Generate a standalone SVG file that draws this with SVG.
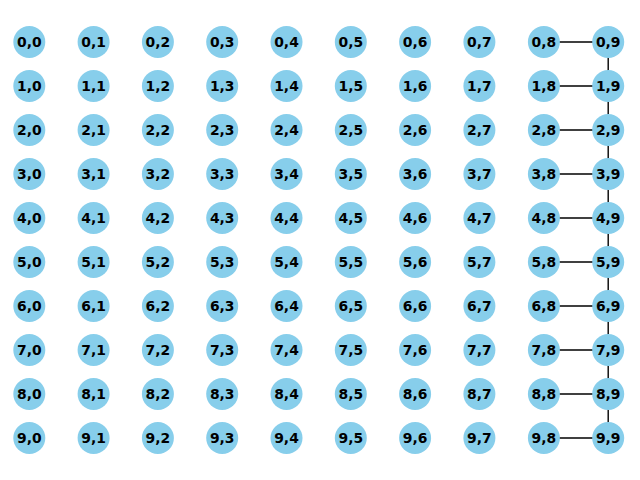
<svg xmlns="http://www.w3.org/2000/svg" width="640" height="480" viewBox="0 0 640 480">
<style>
.n circle{fill:#87CEEB}
.n text{font-family:"DejaVu Sans",sans-serif;font-weight:bold;font-size:13.9px;fill:#000;text-anchor:middle;dominant-baseline:central}
#edges line{stroke:#000;stroke-width:1.39}
</style>
<rect width="640" height="480" fill="#fff"/>
<g id="edges">
<line x1="543.9" y1="42" x2="608.2" y2="42"/>
<line x1="543.9" y1="86" x2="608.2" y2="86"/>
<line x1="543.9" y1="130" x2="608.2" y2="130"/>
<line x1="543.9" y1="174" x2="608.2" y2="174"/>
<line x1="543.9" y1="218" x2="608.2" y2="218"/>
<line x1="543.9" y1="262" x2="608.2" y2="262"/>
<line x1="543.9" y1="306" x2="608.2" y2="306"/>
<line x1="543.9" y1="350" x2="608.2" y2="350"/>
<line x1="543.9" y1="394" x2="608.2" y2="394"/>
<line x1="543.9" y1="438" x2="608.2" y2="438"/>
<line x1="608.2" y1="42" x2="608.2" y2="438"/>
</g>
<g id="n0_0" class="n"><circle cx="29.3" cy="42" r="16"/><text x="29.3" y="42">0,0</text></g>
<g id="n0_1" class="n"><circle cx="93.6" cy="42" r="16"/><text x="93.6" y="42">0,1</text></g>
<g id="n0_2" class="n"><circle cx="157.9" cy="42" r="16"/><text x="157.9" y="42">0,2</text></g>
<g id="n0_3" class="n"><circle cx="222.2" cy="42" r="16"/><text x="222.2" y="42">0,3</text></g>
<g id="n0_4" class="n"><circle cx="286.5" cy="42" r="16"/><text x="286.5" y="42">0,4</text></g>
<g id="n0_5" class="n"><circle cx="350.8" cy="42" r="16"/><text x="350.8" y="42">0,5</text></g>
<g id="n0_6" class="n"><circle cx="415.1" cy="42" r="16"/><text x="415.1" y="42">0,6</text></g>
<g id="n0_7" class="n"><circle cx="479.4" cy="42" r="16"/><text x="479.4" y="42">0,7</text></g>
<g id="n0_8" class="n"><circle cx="543.9" cy="42" r="16"/><text x="543.9" y="42">0,8</text></g>
<g id="n0_9" class="n"><circle cx="608.2" cy="42" r="16"/><text x="608.2" y="42">0,9</text></g>
<g id="n1_0" class="n"><circle cx="29.3" cy="86" r="16"/><text x="29.3" y="86">1,0</text></g>
<g id="n1_1" class="n"><circle cx="93.6" cy="86" r="16"/><text x="93.6" y="86">1,1</text></g>
<g id="n1_2" class="n"><circle cx="157.9" cy="86" r="16"/><text x="157.9" y="86">1,2</text></g>
<g id="n1_3" class="n"><circle cx="222.2" cy="86" r="16"/><text x="222.2" y="86">1,3</text></g>
<g id="n1_4" class="n"><circle cx="286.5" cy="86" r="16"/><text x="286.5" y="86">1,4</text></g>
<g id="n1_5" class="n"><circle cx="350.8" cy="86" r="16"/><text x="350.8" y="86">1,5</text></g>
<g id="n1_6" class="n"><circle cx="415.1" cy="86" r="16"/><text x="415.1" y="86">1,6</text></g>
<g id="n1_7" class="n"><circle cx="479.4" cy="86" r="16"/><text x="479.4" y="86">1,7</text></g>
<g id="n1_8" class="n"><circle cx="543.9" cy="86" r="16"/><text x="543.9" y="86">1,8</text></g>
<g id="n1_9" class="n"><circle cx="608.2" cy="86" r="16"/><text x="608.2" y="86">1,9</text></g>
<g id="n2_0" class="n"><circle cx="29.3" cy="130" r="16"/><text x="29.3" y="130">2,0</text></g>
<g id="n2_1" class="n"><circle cx="93.6" cy="130" r="16"/><text x="93.6" y="130">2,1</text></g>
<g id="n2_2" class="n"><circle cx="157.9" cy="130" r="16"/><text x="157.9" y="130">2,2</text></g>
<g id="n2_3" class="n"><circle cx="222.2" cy="130" r="16"/><text x="222.2" y="130">2,3</text></g>
<g id="n2_4" class="n"><circle cx="286.5" cy="130" r="16"/><text x="286.5" y="130">2,4</text></g>
<g id="n2_5" class="n"><circle cx="350.8" cy="130" r="16"/><text x="350.8" y="130">2,5</text></g>
<g id="n2_6" class="n"><circle cx="415.1" cy="130" r="16"/><text x="415.1" y="130">2,6</text></g>
<g id="n2_7" class="n"><circle cx="479.4" cy="130" r="16"/><text x="479.4" y="130">2,7</text></g>
<g id="n2_8" class="n"><circle cx="543.9" cy="130" r="16"/><text x="543.9" y="130">2,8</text></g>
<g id="n2_9" class="n"><circle cx="608.2" cy="130" r="16"/><text x="608.2" y="130">2,9</text></g>
<g id="n3_0" class="n"><circle cx="29.3" cy="174" r="16"/><text x="29.3" y="174">3,0</text></g>
<g id="n3_1" class="n"><circle cx="93.6" cy="174" r="16"/><text x="93.6" y="174">3,1</text></g>
<g id="n3_2" class="n"><circle cx="157.9" cy="174" r="16"/><text x="157.9" y="174">3,2</text></g>
<g id="n3_3" class="n"><circle cx="222.2" cy="174" r="16"/><text x="222.2" y="174">3,3</text></g>
<g id="n3_4" class="n"><circle cx="286.5" cy="174" r="16"/><text x="286.5" y="174">3,4</text></g>
<g id="n3_5" class="n"><circle cx="350.8" cy="174" r="16"/><text x="350.8" y="174">3,5</text></g>
<g id="n3_6" class="n"><circle cx="415.1" cy="174" r="16"/><text x="415.1" y="174">3,6</text></g>
<g id="n3_7" class="n"><circle cx="479.4" cy="174" r="16"/><text x="479.4" y="174">3,7</text></g>
<g id="n3_8" class="n"><circle cx="543.9" cy="174" r="16"/><text x="543.9" y="174">3,8</text></g>
<g id="n3_9" class="n"><circle cx="608.2" cy="174" r="16"/><text x="608.2" y="174">3,9</text></g>
<g id="n4_0" class="n"><circle cx="29.3" cy="218" r="16"/><text x="29.3" y="218">4,0</text></g>
<g id="n4_1" class="n"><circle cx="93.6" cy="218" r="16"/><text x="93.6" y="218">4,1</text></g>
<g id="n4_2" class="n"><circle cx="157.9" cy="218" r="16"/><text x="157.9" y="218">4,2</text></g>
<g id="n4_3" class="n"><circle cx="222.2" cy="218" r="16"/><text x="222.2" y="218">4,3</text></g>
<g id="n4_4" class="n"><circle cx="286.5" cy="218" r="16"/><text x="286.5" y="218">4,4</text></g>
<g id="n4_5" class="n"><circle cx="350.8" cy="218" r="16"/><text x="350.8" y="218">4,5</text></g>
<g id="n4_6" class="n"><circle cx="415.1" cy="218" r="16"/><text x="415.1" y="218">4,6</text></g>
<g id="n4_7" class="n"><circle cx="479.4" cy="218" r="16"/><text x="479.4" y="218">4,7</text></g>
<g id="n4_8" class="n"><circle cx="543.9" cy="218" r="16"/><text x="543.9" y="218">4,8</text></g>
<g id="n4_9" class="n"><circle cx="608.2" cy="218" r="16"/><text x="608.2" y="218">4,9</text></g>
<g id="n5_0" class="n"><circle cx="29.3" cy="262" r="16"/><text x="29.3" y="262">5,0</text></g>
<g id="n5_1" class="n"><circle cx="93.6" cy="262" r="16"/><text x="93.6" y="262">5,1</text></g>
<g id="n5_2" class="n"><circle cx="157.9" cy="262" r="16"/><text x="157.9" y="262">5,2</text></g>
<g id="n5_3" class="n"><circle cx="222.2" cy="262" r="16"/><text x="222.2" y="262">5,3</text></g>
<g id="n5_4" class="n"><circle cx="286.5" cy="262" r="16"/><text x="286.5" y="262">5,4</text></g>
<g id="n5_5" class="n"><circle cx="350.8" cy="262" r="16"/><text x="350.8" y="262">5,5</text></g>
<g id="n5_6" class="n"><circle cx="415.1" cy="262" r="16"/><text x="415.1" y="262">5,6</text></g>
<g id="n5_7" class="n"><circle cx="479.4" cy="262" r="16"/><text x="479.4" y="262">5,7</text></g>
<g id="n5_8" class="n"><circle cx="543.9" cy="262" r="16"/><text x="543.9" y="262">5,8</text></g>
<g id="n5_9" class="n"><circle cx="608.2" cy="262" r="16"/><text x="608.2" y="262">5,9</text></g>
<g id="n6_0" class="n"><circle cx="29.3" cy="306" r="16"/><text x="29.3" y="306">6,0</text></g>
<g id="n6_1" class="n"><circle cx="93.6" cy="306" r="16"/><text x="93.6" y="306">6,1</text></g>
<g id="n6_2" class="n"><circle cx="157.9" cy="306" r="16"/><text x="157.9" y="306">6,2</text></g>
<g id="n6_3" class="n"><circle cx="222.2" cy="306" r="16"/><text x="222.2" y="306">6,3</text></g>
<g id="n6_4" class="n"><circle cx="286.5" cy="306" r="16"/><text x="286.5" y="306">6,4</text></g>
<g id="n6_5" class="n"><circle cx="350.8" cy="306" r="16"/><text x="350.8" y="306">6,5</text></g>
<g id="n6_6" class="n"><circle cx="415.1" cy="306" r="16"/><text x="415.1" y="306">6,6</text></g>
<g id="n6_7" class="n"><circle cx="479.4" cy="306" r="16"/><text x="479.4" y="306">6,7</text></g>
<g id="n6_8" class="n"><circle cx="543.9" cy="306" r="16"/><text x="543.9" y="306">6,8</text></g>
<g id="n6_9" class="n"><circle cx="608.2" cy="306" r="16"/><text x="608.2" y="306">6,9</text></g>
<g id="n7_0" class="n"><circle cx="29.3" cy="350" r="16"/><text x="29.3" y="350">7,0</text></g>
<g id="n7_1" class="n"><circle cx="93.6" cy="350" r="16"/><text x="93.6" y="350">7,1</text></g>
<g id="n7_2" class="n"><circle cx="157.9" cy="350" r="16"/><text x="157.9" y="350">7,2</text></g>
<g id="n7_3" class="n"><circle cx="222.2" cy="350" r="16"/><text x="222.2" y="350">7,3</text></g>
<g id="n7_4" class="n"><circle cx="286.5" cy="350" r="16"/><text x="286.5" y="350">7,4</text></g>
<g id="n7_5" class="n"><circle cx="350.8" cy="350" r="16"/><text x="350.8" y="350">7,5</text></g>
<g id="n7_6" class="n"><circle cx="415.1" cy="350" r="16"/><text x="415.1" y="350">7,6</text></g>
<g id="n7_7" class="n"><circle cx="479.4" cy="350" r="16"/><text x="479.4" y="350">7,7</text></g>
<g id="n7_8" class="n"><circle cx="543.9" cy="350" r="16"/><text x="543.9" y="350">7,8</text></g>
<g id="n7_9" class="n"><circle cx="608.2" cy="350" r="16"/><text x="608.2" y="350">7,9</text></g>
<g id="n8_0" class="n"><circle cx="29.3" cy="394" r="16"/><text x="29.3" y="394">8,0</text></g>
<g id="n8_1" class="n"><circle cx="93.6" cy="394" r="16"/><text x="93.6" y="394">8,1</text></g>
<g id="n8_2" class="n"><circle cx="157.9" cy="394" r="16"/><text x="157.9" y="394">8,2</text></g>
<g id="n8_3" class="n"><circle cx="222.2" cy="394" r="16"/><text x="222.2" y="394">8,3</text></g>
<g id="n8_4" class="n"><circle cx="286.5" cy="394" r="16"/><text x="286.5" y="394">8,4</text></g>
<g id="n8_5" class="n"><circle cx="350.8" cy="394" r="16"/><text x="350.8" y="394">8,5</text></g>
<g id="n8_6" class="n"><circle cx="415.1" cy="394" r="16"/><text x="415.1" y="394">8,6</text></g>
<g id="n8_7" class="n"><circle cx="479.4" cy="394" r="16"/><text x="479.4" y="394">8,7</text></g>
<g id="n8_8" class="n"><circle cx="543.9" cy="394" r="16"/><text x="543.9" y="394">8,8</text></g>
<g id="n8_9" class="n"><circle cx="608.2" cy="394" r="16"/><text x="608.2" y="394">8,9</text></g>
<g id="n9_0" class="n"><circle cx="29.3" cy="438" r="16"/><text x="29.3" y="438">9,0</text></g>
<g id="n9_1" class="n"><circle cx="93.6" cy="438" r="16"/><text x="93.6" y="438">9,1</text></g>
<g id="n9_2" class="n"><circle cx="157.9" cy="438" r="16"/><text x="157.9" y="438">9,2</text></g>
<g id="n9_3" class="n"><circle cx="222.2" cy="438" r="16"/><text x="222.2" y="438">9,3</text></g>
<g id="n9_4" class="n"><circle cx="286.5" cy="438" r="16"/><text x="286.5" y="438">9,4</text></g>
<g id="n9_5" class="n"><circle cx="350.8" cy="438" r="16"/><text x="350.8" y="438">9,5</text></g>
<g id="n9_6" class="n"><circle cx="415.1" cy="438" r="16"/><text x="415.1" y="438">9,6</text></g>
<g id="n9_7" class="n"><circle cx="479.4" cy="438" r="16"/><text x="479.4" y="438">9,7</text></g>
<g id="n9_8" class="n"><circle cx="543.9" cy="438" r="16"/><text x="543.9" y="438">9,8</text></g>
<g id="n9_9" class="n"><circle cx="608.2" cy="438" r="16"/><text x="608.2" y="438">9,9</text></g>
</svg>
